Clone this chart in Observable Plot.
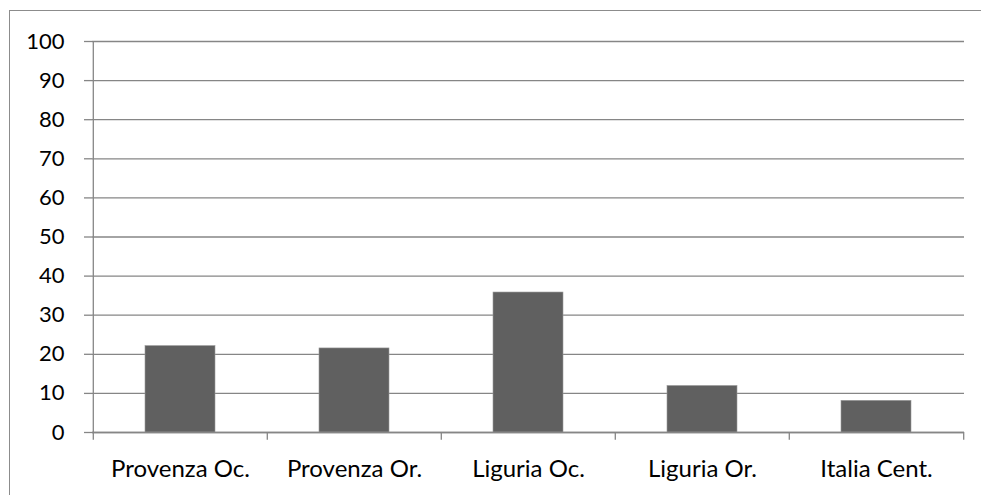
<!DOCTYPE html>
<html>
<head>
<meta charset="utf-8">
<script src="https://cdn.jsdelivr.net/npm/d3@7"></script>
<script src="https://cdn.jsdelivr.net/npm/@observablehq/plot@0.6"></script>
<style>
  html, body { margin: 0; padding: 0; background: #fff; overflow: hidden; }
  #chart { position: relative; width: 981px; height: 495px; overflow: hidden; }
  #frame { position: absolute; left: 9px; top: 10px; width: 3000px; height: 3000px; border-left: 1px solid #8c8c8c; border-top: 1px solid #8c8c8c; box-sizing: border-box; pointer-events: none; }
  #chart svg { position: absolute; left: 0; top: 0; }
</style>
</head>
<body>
<div id="chart"><div id="frame"></div></div>
<script>
const categories = ["Provenza Oc.", "Provenza Or.", "Liguria Oc.", "Liguria Or.", "Italia Cent."];
const values = [22.1, 21.5, 35.8, 11.9, 8.1];
const yTicks = [0, 10, 20, 30, 40, 50, 60, 70, 80, 90, 100];

const data = categories.map((c, i) => ({category: c, value: values[i]}));

const width = 981, height = 495;
const marginLeft = 92, marginRight = 17, marginTop = 41, marginBottom = 63;
const paddingInner = 0.6, paddingOuter = 0.3;
const step = (width - marginLeft - marginRight) / (categories.length - paddingInner + 2 * paddingOuter);
const grid = "#868686";
const font = "Lato, 'Open Sans', sans-serif";

const plot = Plot.plot({
  width, height, marginLeft, marginRight, marginTop, marginBottom,
  style: {fontFamily: font, fontSize: "23px", color: "#000", background: "transparent"},
  x: {domain: categories, paddingInner, paddingOuter, label: null},
  y: {domain: [0, 100], label: null},
  marks: [
    Plot.gridY(yTicks, {stroke: grid, strokeOpacity: 1, strokeWidth: 1.3}),
    Plot.axisY(yTicks, {tickSize: 8, tickPadding: 20, stroke: grid, strokeWidth: 1.3, fontSize: 22, fill: "#000"}),
    Plot.barY(data, {x: "category", y: "value", fill: "#606060", stroke: "#9a9a9a", strokeWidth: 0.6}),
    Plot.ruleY([0], {stroke: grid, strokeWidth: 1.3}),
    Plot.ruleX(categories, {x: d => d, dx: -step / 2, y1: 0, y2: -2, stroke: grid, strokeWidth: 1.3}),
    Plot.ruleX([categories[categories.length - 1]], {x: d => d, dx: step / 2, y1: 0, y2: -2, stroke: grid, strokeWidth: 1.3}),
    Plot.ruleX([categories[0]], {x: d => d, dx: -step / 2, y1: 0, y2: 100, stroke: grid, strokeWidth: 1.3}),
    Plot.axisX({tickSize: 0, tickPadding: 27, fontSize: 24, fill: "#000"})
  ]
});
document.getElementById("chart").insertBefore(plot, document.getElementById("frame"));
</script>
</body>
</html>
